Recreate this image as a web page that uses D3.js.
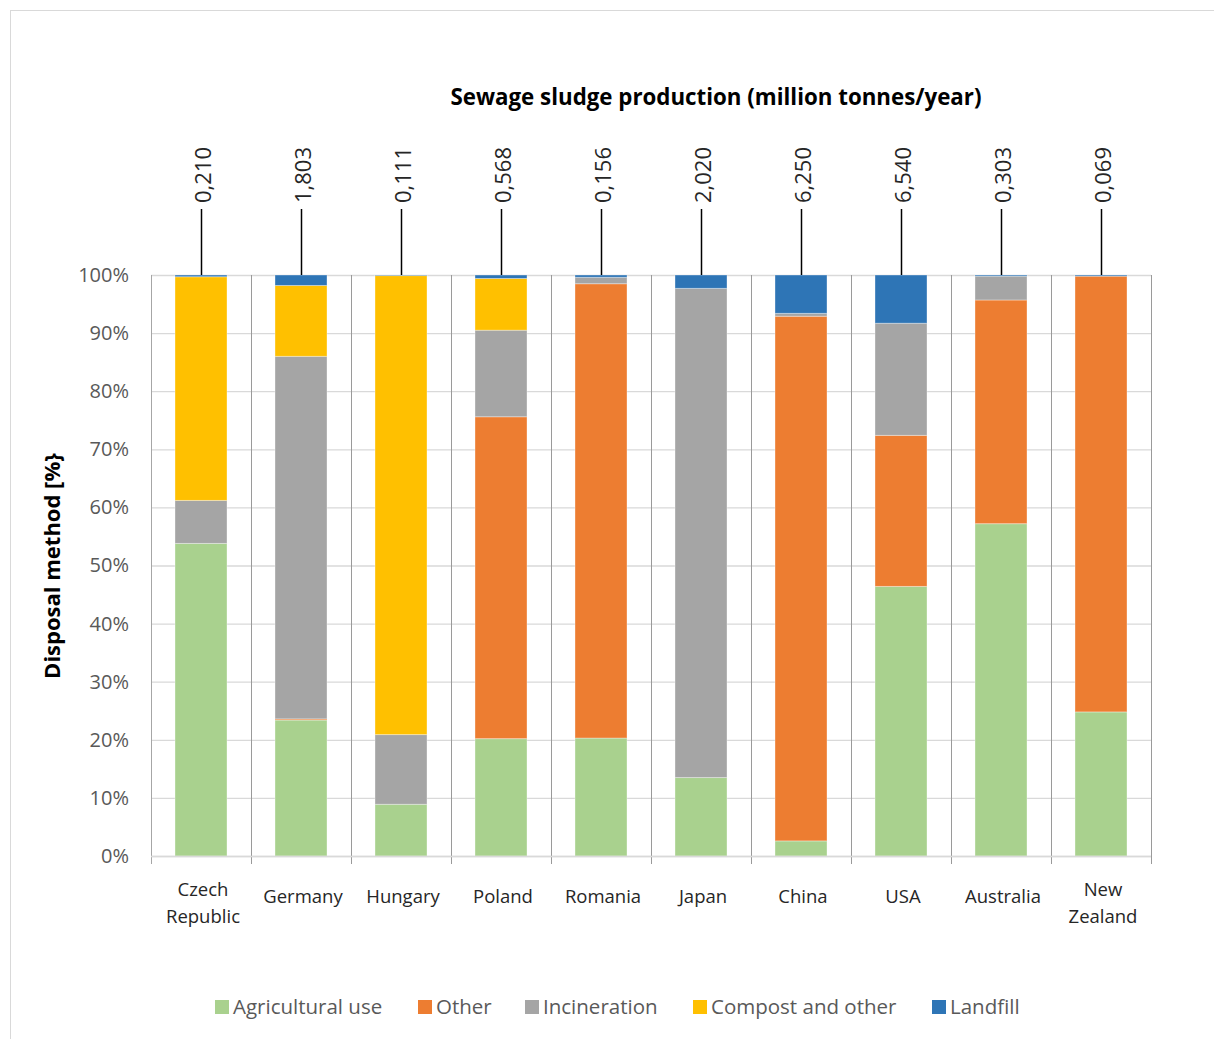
<!DOCTYPE html>
<html>
<head>
<meta charset="utf-8">
<script src="https://cdn.jsdelivr.net/npm/d3@7"></script>
<style>
  body { margin: 0; background: #fff; }
  text { font-family: "Open Sans", sans-serif; }
</style>
</head>
<body>
<div id="chart"></div>
<script>
// Data
var countries = ["Czech Republic", "Germany", "Hungary", "Poland", "Romania", "Japan", "China", "USA", "Australia", "New Zealand"]
var production = ["0,210", "1,803", "0,111", "0,568", "0,156", "2,020", "6,250", "6,540", "0,303", "0,069"]
var seriesNames = ["Agricultural use", "Other", "Incineration", "Compost and other", "Landfill"]
var agricultural = [53.8, 23.4, 8.9, 20.2, 20.3, 13.5, 2.6, 46.4, 57.2, 24.8]
var other        = [0, 0.2, 0, 55.4, 78.2, 0, 90.3, 26.0, 38.5, 75.0]
var incineration = [7.4, 62.4, 12.0, 14.9, 1.1, 84.2, 0.5, 19.3, 4.1, 0]
var compost      = [38.5, 12.2, 79.0, 8.9, 0, 0, 0, 0, 0, 0]
var landfill     = [0.3, 1.8, 0.1, 0.6, 0.4, 2.3, 6.6, 8.3, 0.2, 0.2]
var yTicks = [0, 10, 20, 30, 40, 50, 60, 70, 80, 90, 100]

var colors = ["#a9d18e", "#ed7d31", "#a5a5a5", "#ffc000", "#2e75b6"]

// Plotting vars
var W = 1214, H = 1039
var margin = {top: 275, right: 63, bottom: 183, left: 151},
    width = W - margin.left - margin.right,
    height = H - margin.top - margin.bottom;

var svg = d3.select("#chart")
  .append("svg")
    .attr("width", W)
    .attr("height", H);

// outer frame
svg.append("rect")
    .attr("x", 10.5).attr("y", 10.5)
    .attr("width", 1230).attr("height", 1050)
    .attr("fill", "none")
    .attr("stroke", "#d9d9d9")
    .attr("stroke-width", 1);

var g = svg.append("g")
    .attr("transform", "translate(" + margin.left + "," + margin.top + ")");

var x = d3.scaleBand()
    .domain(countries)
    .range([0, width])
    .paddingInner(0.48)
    .paddingOuter(0.24);

var y = d3.scaleLinear()
    .domain([0, 100])
    .range([height, 0]);

// horizontal gridlines
g.selectAll(".hgrid")
  .data(yTicks)
  .enter().append("line")
    .attr("x1", 0).attr("x2", width)
    .attr("y1", function(d) { return y(d) + 0.5 })
    .attr("y2", function(d) { return y(d) + 0.5 })
    .attr("stroke", "#d9d9d9")
    .attr("stroke-width", 1.3);

// vertical category separators (extend below axis as ticks)
var bounds = d3.range(countries.length + 1).map(function(i) { return i * x.step() });
g.selectAll(".vgrid")
  .data(bounds)
  .enter().append("line")
    .attr("x1", function(d) { return d + 0.5 })
    .attr("x2", function(d) { return d + 0.5 })
    .attr("y1", 0)
    .attr("y2", height + 8)
    .attr("stroke", function(d, i) { return i == 0 ? "#a6a6a6" : "#9a9a9a" })
    .attr("stroke-width", 1);

// y-axis tick labels
var yAxis = d3.axisLeft(y)
    .tickValues(yTicks)
    .tickSize(0)
    .tickPadding(22)
    .tickFormat(function(d) { return d + "%" });

var ya = g.append("g").call(yAxis);
ya.select(".domain").remove();
ya.selectAll("text")
    .attr("font-size", 20)
    .attr("fill", "#595959")
    .attr("font-family", "Open Sans, sans-serif");

// stacked bars
var table = countries.map(function(c, i) {
  return {country: c, "Agricultural use": agricultural[i], "Other": other[i],
          "Incineration": incineration[i], "Compost and other": compost[i], "Landfill": landfill[i]};
});
var stack = d3.stack().keys(seriesNames)(table);

g.selectAll(".series")
  .data(stack)
  .enter().append("g")
    .attr("fill", function(d, i) { return colors[i] })
  .selectAll("rect")
  .data(function(d) { return d })
  .enter().append("rect")
    .attr("x", function(d) { return x(d.data.country) })
    .attr("y", function(d) { return y(d[1]) })
    .attr("width", x.bandwidth())
    .attr("height", function(d) { return y(d[0]) - y(d[1]) })
    .attr("stroke", "#ffffff")
    .attr("stroke-opacity", 0.35)
    .attr("stroke-width", 1);

// x axis line
g.append("line")
    .attr("x1", 0).attr("x2", width)
    .attr("y1", height + 0.5).attr("y2", height + 0.5)
    .attr("stroke", "#d9d9d9")
    .attr("stroke-width", 1.3);

// category labels
var cat = g.selectAll(".cat")
  .data(countries)
  .enter().append("text")
    .attr("x", function(d) { return x(d) + x.bandwidth() / 2 + 2 })
    .attr("y", height + 41)
    .attr("text-anchor", "middle")
    .attr("font-size", 18.5)
    .attr("fill", "#262626");
cat.each(function(d) {
  var words = d.split(" ");
  var t = d3.select(this);
  if (words.length == 1) {
    t.append("tspan").attr("x", t.attr("x")).attr("dy", "0.35em").text(d);
  } else {
    t.append("tspan").attr("x", t.attr("x")).attr("y", height + 34).attr("dy", "0.35em").text(words[0]);
    t.append("tspan").attr("x", t.attr("x")).attr("y", height + 61).attr("dy", "0.35em").text(words[1]);
  }
});

// production leader lines and labels
g.selectAll(".lead")
  .data(countries)
  .enter().append("line")
    .attr("x1", function(d) { return x(d) + x.bandwidth() / 2 + 0.5 })
    .attr("x2", function(d) { return x(d) + x.bandwidth() / 2 + 0.5 })
    .attr("y1", -66)
    .attr("y2", 0)
    .attr("stroke", "#000")
    .attr("stroke-width", 1.5);

g.selectAll(".prod")
  .data(countries)
  .enter().append("text")
    .attr("transform", function(d) {
      return "translate(" + (x(d) + x.bandwidth() / 2 + 2) + "," + (-72) + ") rotate(-90)";
    })
    .attr("dy", "0.35em")
    .attr("text-anchor", "start")
    .attr("font-family", "DejaVu Sans, sans-serif")
    .attr("font-size", 22)
    .attr("fill", "#262626")
    .text(function(d, i) { return production[i] });

// title
svg.append("text")
    .attr("x", 716)
    .attr("y", 97)
    .attr("dy", "0.35em")
    .attr("text-anchor", "middle")
    .attr("font-size", 22.3)
    .attr("font-weight", "bold")
    .attr("fill", "#000")
    .text("Sewage sludge production (million tonnes/year)");

// y title
svg.append("text")
    .attr("transform", "translate(52,566) rotate(-90)")
    .attr("dy", "0.35em")
    .attr("text-anchor", "middle")
    .attr("font-size", 22)
    .attr("font-weight", "bold")
    .attr("fill", "#000")
    .text("Disposal method [%}");

// legend
var legendX = [215, 418, 525, 693, 932];
var leg = svg.selectAll(".leg")
  .data(seriesNames)
  .enter().append("g")
    .attr("transform", function(d, i) { return "translate(" + legendX[i] + ",1007)" });
leg.append("rect")
    .attr("x", 0).attr("y", -7)
    .attr("width", 14).attr("height", 14)
    .attr("fill", function(d, i) { return colors[i] });
leg.append("text")
    .attr("x", 18)
    .attr("dy", "0.35em")
    .attr("font-size", 20.5)
    .attr("fill", "#595959")
    .text(function(d) { return d });
</script>
</body>
</html>
